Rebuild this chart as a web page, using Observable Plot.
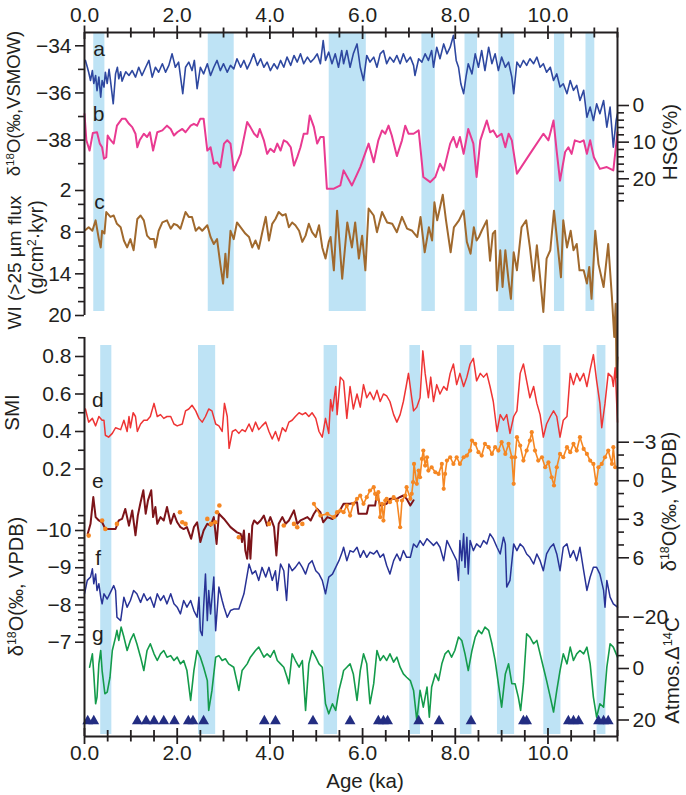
<!DOCTYPE html>
<html><head><meta charset="utf-8">
<script src="https://cdn.jsdelivr.net/npm/d3@7"></script>
<script src="https://cdn.jsdelivr.net/npm/@observablehq/plot@0.6"></script>
<style>body{margin:0;background:#fff}svg{display:block}</style>
</head><body>
<script>
// ---------- DATA (age in ka, value in each record's own units) ----------
const bandsTop = [[0.20,0.44],[2.67,3.23],[5.28,6.08],[7.28,7.57],[8.21,8.48],[8.94,9.28],[10.14,10.36],[10.82,11.01]];
const bandsBottom = [[0.35,0.59],[2.46,2.83],[5.17,5.46],[7.02,7.25],[8.11,8.36],[8.91,9.28],[9.91,10.28],[11.06,11.25]];

// a: d18O (permil VSMOW)
const seriesA = [[0.02,-34.62],[0.06,-34.9],[0.09,-35.12],[0.13,-35.47],[0.17,-35.05],[0.20,-35.6],[0.24,-35.26],[0.27,-35.9],[0.31,-35.33],[0.35,-36.18],[0.38,-35.47],[0.42,-35.75],[0.45,-35.12],[0.49,-35.6],[0.53,-35.0],[0.56,-35.47],[0.62,-36.46],[0.67,-35.19],[0.71,-34.91],[0.74,-35.4],[0.78,-35.1],[0.81,-35.5],[0.89,-35.1],[0.96,-35.26],[1.03,-35.05],[1.10,-35.33],[1.17,-34.91],[1.24,-35.26],[1.32,-34.91],[1.39,-34.62],[1.46,-35.33],[1.53,-34.91],[1.60,-35.12],[1.68,-34.76],[1.75,-35.12],[1.82,-34.83],[1.89,-34.34],[1.96,-34.91],[2.03,-34.69],[2.12,-36.03],[2.18,-34.91],[2.25,-34.69],[2.32,-35.05],[2.37,-34.62],[2.43,-35.82],[2.50,-34.91],[2.57,-35.19],[2.65,-34.76],[2.72,-35.26],[2.79,-34.91],[2.86,-34.62],[2.93,-35.05],[3.00,-34.76],[3.08,-35.12],[3.15,-34.83],[3.22,-34.98],[3.29,-34.55],[3.37,-34.91],[3.44,-34.62],[3.51,-34.98],[3.58,-34.69],[3.65,-34.34],[3.73,-34.83],[3.80,-34.55],[3.87,-34.91],[3.94,-34.69],[4.01,-35.05],[4.09,-34.76],[4.16,-34.98],[4.23,-34.62],[4.30,-34.91],[4.37,-34.48],[4.45,-34.83],[4.52,-34.41],[4.59,-34.69],[4.66,-34.34],[4.73,-34.76],[4.81,-34.48],[4.88,-34.69],[4.95,-34.55],[5.02,-34.34],[5.09,-34.76],[5.15,-33.78],[5.20,-34.62],[5.27,-34.27],[5.34,-34.76],[5.41,-34.34],[5.48,-34.91],[5.55,-34.2],[5.59,-34.76],[5.66,-34.2],[5.73,-34.91],[5.80,-34.34],[5.88,-33.92],[5.95,-34.91],[6.02,-35.47],[6.09,-34.41],[6.16,-34.69],[6.24,-34.48],[6.31,-34.91],[6.38,-34.34],[6.45,-34.2],[6.52,-34.76],[6.59,-34.48],[6.67,-34.69],[6.74,-34.41],[6.81,-34.76],[6.88,-34.34],[6.95,-34.69],[7.03,-34.48],[7.10,-34.83],[7.13,-35.26],[7.21,-34.55],[7.28,-34.69],[7.35,-34.34],[7.42,-34.62],[7.49,-34.2],[7.53,-34.91],[7.60,-34.06],[7.67,-34.55],[7.75,-33.92],[7.82,-34.34],[7.89,-34.06],[7.96,-33.56],[8.02,-34.62],[8.07,-34.91],[8.12,-35.61],[8.18,-36.03],[8.23,-35.33],[8.28,-34.76],[8.36,-35.19],[8.43,-34.34],[8.50,-34.91],[8.57,-34.2],[8.64,-35.05],[8.72,-34.06],[8.79,-34.76],[8.86,-34.34],[8.93,-35.05],[9.00,-34.48],[9.08,-34.91],[9.15,-34.69],[9.22,-35.33],[9.26,-36.03],[9.33,-34.69],[9.40,-34.91],[9.47,-34.62],[9.54,-34.83],[9.61,-34.55],[9.69,-34.76],[9.76,-34.48],[9.83,-34.91],[9.90,-34.76],[9.97,-35.12],[10.05,-34.91],[10.12,-35.47],[10.19,-35.19],[10.26,-35.75],[10.33,-35.61],[10.41,-36.03],[10.48,-35.47],[10.55,-35.89],[10.62,-35.68],[10.69,-36.32],[10.77,-35.89],[10.84,-37.03],[10.91,-36.6],[10.98,-37.17],[11.05,-36.46],[11.12,-36.88],[11.20,-36.32],[11.27,-37.45],[11.34,-36.6],[11.41,-38.3],[11.47,-37.17],[11.50,-36.88]];

// b: HSG (%)
const seriesB = [[0.00,2.3],[0.04,9.5],[0.11,12.3],[0.18,7.5],[0.27,7.3],[0.33,10.4],[0.38,11.4],[0.42,14.5],[0.47,14.1],[0.50,8.2],[0.56,9.4],[0.63,10.4],[0.70,5.5],[0.81,3.6],[0.88,3.6],[0.96,5.0],[1.03,5.9],[1.10,7.7],[1.14,11.4],[1.19,9.5],[1.28,7.7],[1.35,8.6],[1.41,7.3],[1.48,12.3],[1.57,7.3],[1.68,6.8],[1.78,5.5],[1.86,6.4],[1.93,8.2],[2.00,7.3],[2.11,6.4],[2.18,7.3],[2.29,5.5],[2.36,5.0],[2.43,5.5],[2.50,3.6],[2.57,3.6],[2.65,12.3],[2.72,11.4],[2.79,15.9],[2.86,15.5],[2.93,16.8],[3.01,10.4],[3.08,9.5],[3.15,10.4],[3.22,17.7],[3.37,13.2],[3.51,4.5],[3.58,5.9],[3.66,7.7],[3.73,8.6],[3.78,6.4],[3.87,9.5],[3.94,13.2],[4.01,11.8],[4.09,12.7],[4.16,10.4],[4.23,12.3],[4.30,9.5],[4.37,10.0],[4.45,11.4],[4.52,16.4],[4.59,14.1],[4.66,11.4],[4.73,7.7],[4.81,7.7],[4.86,2.7],[4.95,5.9],[5.02,10.4],[5.09,8.6],[5.16,8.6],[5.23,22.7],[5.38,22.7],[5.52,21.8],[5.59,17.7],[5.77,21.8],[5.95,16.8],[6.13,10.4],[6.24,15.5],[6.34,9.5],[6.42,6.8],[6.49,7.7],[6.56,5.5],[6.63,8.2],[6.74,13.8],[6.85,9.5],[6.92,5.5],[6.99,7.7],[7.10,7.7],[7.21,6.8],[7.31,19.5],[7.46,20.9],[7.57,19.5],[7.67,15.9],[7.75,17.7],[7.89,10.4],[7.96,8.6],[8.03,11.4],[8.10,8.6],[8.18,13.2],[8.28,6.4],[8.39,10.4],[8.46,19.5],[8.54,9.5],[8.61,6.8],[8.68,4.1],[8.75,7.3],[8.82,6.8],[8.90,8.6],[9.00,7.7],[9.08,11.4],[9.15,7.7],[9.22,9.5],[9.33,18.6],[9.61,13.2],[9.90,7.7],[10.01,9.5],[10.12,4.1],[10.19,12.7],[10.26,20.5],[10.37,12.7],[10.44,11.4],[10.51,13.2],[10.58,9.5],[10.69,10.0],[10.77,9.5],[10.84,13.2],[10.91,9.5],[10.99,14.1],[11.12,17.3],[11.27,16.8],[11.41,17.7],[11.50,7.3]];

// c: WI (>25 um flux, g/cm2.kyr)
const seriesC = [[0.02,7.7],[0.09,7.3],[0.17,7.8],[0.24,6.3],[0.31,9.0],[0.35,10.2],[0.38,7.8],[0.43,8.2],[0.47,5.1],[0.56,5.8],[0.63,5.6],[0.70,6.8],[0.78,7.3],[0.85,9.2],[0.92,10.2],[0.99,9.0],[1.06,10.6],[1.14,6.1],[1.21,5.6],[1.28,6.3],[1.35,8.5],[1.42,9.0],[1.50,9.0],[1.53,10.2],[1.60,7.8],[1.68,6.6],[1.78,6.3],[1.86,7.5],[1.93,6.8],[2.00,7.0],[2.07,7.5],[2.18,5.1],[2.25,5.8],[2.32,5.8],[2.40,7.8],[2.47,7.3],[2.54,7.8],[2.65,7.0],[2.72,8.7],[2.79,9.7],[2.86,9.0],[2.93,12.6],[2.99,15.4],[3.04,11.1],[3.08,14.5],[3.15,7.8],[3.22,9.0],[3.29,6.6],[3.37,7.3],[3.47,8.2],[3.55,8.7],[3.62,10.2],[3.69,9.2],[3.76,10.4],[3.83,8.2],[3.91,5.8],[3.98,9.2],[4.05,6.8],[4.12,6.1],[4.19,5.1],[4.27,5.6],[4.34,5.4],[4.41,7.3],[4.48,6.6],[4.55,7.0],[4.63,7.8],[4.70,9.4],[4.77,8.5],[4.84,6.8],[4.91,8.0],[4.99,8.7],[5.06,7.0],[5.13,10.2],[5.20,11.8],[5.27,9.4],[5.31,8.7],[5.38,13.5],[5.45,4.9],[5.56,14.7],[5.67,6.6],[5.77,10.2],[5.84,6.6],[5.92,11.8],[5.99,8.5],[6.06,13.5],[6.13,4.6],[6.24,5.6],[6.31,8.0],[6.42,5.1],[6.53,6.6],[6.64,6.8],[6.74,8.0],[6.85,5.8],[6.96,7.5],[7.07,7.8],[7.18,8.7],[7.25,5.8],[7.34,10.9],[7.43,7.3],[7.50,9.2],[7.55,3.7],[7.61,6.3],[7.73,2.6],[7.80,6.3],[7.90,10.9],[7.97,7.3],[8.08,6.3],[8.18,4.9],[8.25,9.4],[8.33,11.1],[8.40,7.3],[8.46,9.2],[8.51,8.7],[8.57,7.8],[8.68,6.3],[8.75,12.1],[8.81,8.2],[8.86,7.8],[8.90,16.4],[8.97,10.6],[9.02,15.9],[9.08,10.6],[9.15,15.0],[9.20,17.6],[9.26,10.9],[9.33,13.5],[9.43,7.3],[9.53,6.3],[9.61,10.2],[9.69,15.0],[9.76,9.9],[9.83,14.5],[9.90,19.5],[9.97,11.8],[10.05,10.6],[10.13,4.9],[10.19,8.7],[10.28,14.5],[10.33,6.3],[10.41,10.2],[10.49,7.8],[10.55,10.6],[10.62,9.7],[10.68,13.5],[10.77,13.5],[10.84,15.4],[10.89,13.0],[10.94,17.6],[11.02,7.8],[11.09,12.6],[11.20,15.9],[11.30,9.7],[11.38,17.4],[11.43,23.1],[11.46,18.3],[11.48,28.9],[11.50,26.0]];

// d: SMI
const seriesD = [[0.02,0.52],[0.09,0.45],[0.17,0.47],[0.24,0.43],[0.31,0.48],[0.38,0.46],[0.42,0.46],[0.45,0.38],[0.52,0.37],[0.60,0.39],[0.67,0.42],[0.78,0.41],[0.85,0.46],[0.92,0.40],[0.96,0.48],[0.99,0.42],[1.05,0.50],[1.10,0.48],[1.14,0.40],[1.21,0.44],[1.28,0.46],[1.35,0.46],[1.42,0.48],[1.50,0.55],[1.57,0.48],[1.64,0.49],[1.71,0.47],[1.78,0.48],[1.86,0.48],[1.93,0.44],[2.00,0.43],[2.11,0.44],[2.18,0.51],[2.25,0.52],[2.32,0.54],[2.40,0.51],[2.47,0.47],[2.54,0.45],[2.61,0.48],[2.68,0.52],[2.75,0.51],[2.83,0.44],[2.90,0.43],[2.97,0.40],[3.02,0.55],[3.08,0.48],[3.12,0.31],[3.19,0.40],[3.26,0.41],[3.33,0.39],[3.40,0.41],[3.47,0.40],[3.55,0.44],[3.62,0.40],[3.69,0.45],[3.76,0.41],[3.83,0.43],[3.91,0.45],[3.98,0.40],[4.05,0.36],[4.12,0.40],[4.19,0.35],[4.27,0.42],[4.34,0.40],[4.41,0.45],[4.48,0.46],[4.55,0.48],[4.63,0.50],[4.70,0.49],[4.77,0.50],[4.84,0.48],[4.91,0.50],[4.99,0.47],[5.06,0.40],[5.13,0.37],[5.20,0.47],[5.27,0.39],[5.31,0.57],[5.35,0.51],[5.42,0.64],[5.45,0.49],[5.52,0.69],[5.59,0.67],[5.66,0.47],[5.73,0.64],[5.80,0.52],[5.88,0.60],[5.95,0.53],[6.02,0.65],[6.09,0.58],[6.16,0.61],[6.24,0.57],[6.31,0.62],[6.38,0.56],[6.45,0.60],[6.52,0.59],[6.59,0.56],[6.67,0.49],[6.74,0.45],[6.81,0.49],[6.88,0.56],[6.94,0.64],[6.99,0.71],[7.06,0.58],[7.10,0.51],[7.17,0.53],[7.24,0.58],[7.30,0.83],[7.35,0.71],[7.42,0.58],[7.47,0.69],[7.53,0.56],[7.60,0.65],[7.67,0.60],[7.75,0.64],[7.82,0.62],[7.89,0.71],[7.96,0.76],[8.03,0.65],[8.10,0.71],[8.18,0.64],[8.25,0.69],[8.32,0.76],[8.39,0.79],[8.46,0.67],[8.54,0.71],[8.61,0.69],[8.68,0.71],[8.75,0.64],[8.82,0.56],[8.90,0.40],[8.97,0.49],[9.04,0.46],[9.11,0.49],[9.18,0.39],[9.26,0.48],[9.33,0.51],[9.40,0.71],[9.47,0.76],[9.54,0.67],[9.61,0.58],[9.69,0.64],[9.76,0.55],[9.83,0.49],[9.90,0.37],[9.97,0.44],[10.05,0.48],[10.12,0.51],[10.19,0.48],[10.26,0.37],[10.33,0.46],[10.41,0.48],[10.48,0.71],[10.55,0.65],[10.62,0.71],[10.69,0.67],[10.77,0.71],[10.84,0.64],[10.91,0.73],[10.98,0.81],[11.05,0.67],[11.12,0.55],[11.16,0.42],[11.23,0.55],[11.30,0.71],[11.38,0.69],[11.41,0.64],[11.45,0.74],[11.50,0.45]];

// e: d18O (permil VPDB), dark red record (left axis)
const seriesE1 = [[0.07,-9.91],[0.13,-10.18],[0.19,-10.9],[0.24,-10.36],[0.31,-10.27],[0.38,-10.22],[0.45,-10.04],[0.67,-10.04],[0.74,-10.27],[0.81,-10.31],[0.88,-10.58],[0.96,-10.13],[1.03,-10.54],[1.10,-9.87],[1.15,-10.40],[1.21,-10.76],[1.27,-11.08],[1.32,-10.45],[1.37,-10.81],[1.44,-11.08],[1.48,-10.36],[1.53,-10.63],[1.57,-10.18],[1.64,-10.36],[1.71,-10.27],[1.78,-10.63],[1.86,-10.18],[1.93,-10.45],[2.00,-10.22],[2.07,-10.09],[2.14,-10.04],[2.21,-10.09],[2.30,-9.78],[2.36,-10.09],[2.43,-10.22],[2.50,-9.69],[2.57,-10.0],[2.65,-10.18],[2.72,-10.13],[2.79,-10.36],[2.85,-9.64],[2.90,-10.45],[3.01,-10.31],[3.15,-10.09],[3.29,-9.95],[3.37,-9.91],[3.40,-9.69],[3.44,-10.0],[3.47,-9.46],[3.51,-9.24],[3.55,-9.91],[3.58,-9.24],[3.62,-10.13],[3.66,-10.27],[3.73,-10.18],[3.80,-10.27],[3.87,-10.40],[3.94,-10.13],[4.01,-10.36],[4.09,-10.09],[4.14,-9.33],[4.19,-10.18],[4.27,-10.36],[4.34,-10.18],[4.41,-10.27],[4.52,-10.54],[4.59,-10.18],[4.66,-10.27],[4.73,-10.31],[4.81,-10.36],[4.88,-10.27],[4.95,-10.45],[5.02,-10.58],[5.09,-10.49],[5.15,-10.22],[5.24,-10.36],[5.35,-10.31],[5.45,-10.40],[5.59,-10.72],[5.73,-10.72],[5.88,-10.76],[5.91,-10.45],[6.09,-10.45],[6.13,-10.67],[6.27,-10.67],[6.31,-10.99],[6.38,-10.67],[6.52,-10.72],[6.59,-10.85],[6.74,-10.85],[6.81,-10.90],[6.88,-10.94],[6.95,-10.85],[7.03,-10.67],[7.10,-10.81]];

// e: d18O (permil VPDB), orange record (right axis)
const seriesE2Dots = [[0.09,4.27],[0.38,3.10],[0.45,3.75],[0.70,3.36],[2.06,2.45],[2.11,3.23],[2.18,3.36],[2.65,2.97],[2.73,3.36],[2.82,3.23],[2.86,2.45],[2.91,1.93],[3.33,4.40],[3.98,3.36],[4.30,3.49],[4.52,3.36],[4.59,3.62],[4.70,3.36]];
const seriesE2 = [[4.95,1.80],[5.09,2.71],[5.24,2.58],[5.38,2.84],[5.45,2.45],[5.52,2.32],[5.59,2.45],[5.66,1.93],[5.73,2.71],[5.80,1.80],[5.88,1.41],[5.95,1.15],[6.02,1.80],[6.09,1.28],[6.16,0.76],[6.24,0.50],[6.27,1.02],[6.31,1.41],[6.34,0.89],[6.38,2.84],[6.42,1.80],[6.45,3.10],[6.49,1.54],[6.52,1.41],[6.59,1.67],[6.67,1.28],[6.74,1.54],[6.81,3.62],[6.85,1.54],[6.92,1.15],[6.95,0.50],[7.03,1.41],[7.06,1.02],[7.09,0.11],[7.11,-1.31],[7.17,0.24],[7.21,-0.79],[7.24,-0.27],[7.28,-1.70],[7.31,-2.35],[7.35,-1.18],[7.39,-1.83],[7.42,-0.79],[7.49,-1.05],[7.57,-0.66],[7.64,-0.53],[7.71,-1.31],[7.75,0.63],[7.78,-0.53],[7.82,-1.57],[7.89,-1.83],[7.96,-1.31],[8.03,-1.83],[8.10,-1.31],[8.18,-1.83],[8.25,-1.96],[8.32,-2.35],[8.36,-3.13],[8.43,-2.87],[8.50,-2.22],[8.57,-1.96],[8.64,-2.87],[8.72,-2.61],[8.79,-2.09],[8.86,-2.61],[8.93,-2.35],[9.00,-3.0],[9.08,-2.09],[9.15,-2.87],[9.22,-1.83],[9.26,0.24],[9.29,-1.83],[9.33,-3.39],[9.40,-2.74],[9.47,-1.57],[9.54,-2.35],[9.61,-3.13],[9.65,-3.78],[9.72,-2.35],[9.79,-1.57],[9.87,-1.83],[9.94,-1.05],[10.01,-1.44],[10.08,-0.27],[10.13,0.37],[10.19,-1.05],[10.26,-2.09],[10.33,-1.83],[10.41,-2.61],[10.48,-2.22],[10.55,-2.87],[10.62,-2.35],[10.69,-3.39],[10.77,-2.48],[10.84,-2.09],[10.91,-1.57],[10.98,-1.31],[11.04,0.24],[11.09,-1.05],[11.16,-1.31],[11.23,-1.83],[11.30,-2.35],[11.38,-1.31],[11.41,-2.61],[11.45,-1.05]];

// f: d18O (permil VPDB), blue record (left axis)
const seriesF = [[0.00,-8.30],[0.06,-8.66],[0.13,-8.75],[0.17,-8.97],[0.20,-8.57],[0.24,-8.83],[0.27,-8.39],[0.31,-8.57],[0.35,-8.21],[0.38,-8.03],[0.42,-8.30],[0.49,-8.16],[0.56,-8.34],[0.63,-8.52],[0.67,-8.39],[0.70,-7.67],[0.78,-7.58],[0.85,-8.21],[0.92,-7.94],[0.99,-8.12],[1.06,-8.39],[1.13,-8.30],[1.21,-8.07],[1.28,-8.30],[1.35,-8.12],[1.42,-8.21],[1.50,-7.94],[1.57,-8.30],[1.64,-8.12],[1.71,-8.25],[1.78,-8.03],[1.86,-8.30],[1.93,-8.03],[2.00,-7.94],[2.07,-7.76],[2.14,-8.12],[2.21,-7.94],[2.29,-8.12],[2.36,-7.85],[2.43,-7.67],[2.47,-8.21],[2.50,-7.31],[2.54,-7.18],[2.57,-7.94],[2.61,-8.83],[2.65,-7.58],[2.68,-8.39],[2.72,-7.76],[2.79,-8.75],[2.83,-7.31],[2.90,-8.48],[2.97,-8.12],[3.01,-7.94],[3.08,-7.67],[3.15,-7.85],[3.22,-7.89],[3.33,-7.89],[3.44,-8.30],[3.55,-9.10],[3.62,-8.83],[3.69,-8.92],[3.76,-8.66],[3.83,-9.01],[3.91,-8.75],[3.98,-9.01],[4.05,-8.66],[4.12,-8.92],[4.16,-8.39],[4.23,-9.10],[4.30,-8.92],[4.36,-8.12],[4.41,-9.10],[4.48,-8.92],[4.55,-9.01],[4.63,-9.15],[4.70,-9.01],[4.77,-8.83],[4.84,-9.10],[4.91,-9.19],[4.99,-8.92],[5.06,-8.83],[5.13,-8.66],[5.20,-8.30],[5.27,-8.75],[5.35,-8.83],[5.42,-9.01],[5.49,-9.19],[5.56,-9.42],[5.59,-9.55],[5.66,-9.19],[5.73,-9.46],[5.80,-9.42],[5.88,-9.55],[5.95,-9.28],[6.02,-9.46],[6.09,-9.28],[6.16,-9.42],[6.24,-9.37],[6.31,-9.46],[6.38,-9.28],[6.45,-9.37],[6.52,-9.06],[6.59,-8.83],[6.67,-9.19],[6.74,-9.37],[6.81,-9.19],[6.88,-9.46],[6.95,-9.28],[7.03,-9.28],[7.10,-9.64],[7.17,-9.55],[7.24,-9.73],[7.31,-9.60],[7.39,-9.78],[7.46,-9.69],[7.53,-9.60],[7.60,-9.69],[7.67,-9.55],[7.75,-9.19],[7.82,-9.73],[7.89,-9.55],[7.96,-9.37],[8.03,-9.19],[8.07,-8.66],[8.10,-9.73],[8.14,-9.19],[8.18,-9.91],[8.21,-9.01],[8.25,-9.82],[8.28,-8.83],[8.32,-9.73],[8.39,-9.46],[8.46,-9.64],[8.54,-9.55],[8.61,-9.73],[8.68,-9.64],[8.75,-9.91],[8.82,-9.78],[8.90,-9.55],[8.97,-9.37],[9.04,-9.82],[9.08,-9.64],[9.11,-8.48],[9.18,-8.66],[9.26,-9.64],[9.33,-9.46],[9.40,-9.64],[9.47,-9.55],[9.54,-9.37],[9.61,-9.28],[9.69,-9.10],[9.76,-9.37],[9.83,-9.19],[9.90,-8.92],[9.97,-9.37],[10.05,-9.55],[10.12,-9.64],[10.19,-9.37],[10.26,-8.92],[10.33,-9.55],[10.41,-9.64],[10.48,-9.28],[10.55,-9.46],[10.62,-9.19],[10.69,-9.55],[10.77,-8.92],[10.84,-8.39],[10.91,-8.75],[10.98,-9.01],[11.05,-9.01],[11.12,-8.83],[11.20,-8.39],[11.23,-7.94],[11.27,-8.66],[11.34,-8.21],[11.41,-8.03],[11.50,-7.94]];

// g: Atmos. Delta14C (permil)
const seriesG = [[0.11,-0.5],[0.17,-5.7],[0.20,2.1],[0.24,13.7],[0.27,11.1],[0.31,-1.8],[0.35,-7.0],[0.38,0.8],[0.44,9.8],[0.49,9.2],[0.55,3.4],[0.60,-7.0],[0.67,-12.2],[0.70,-14.8],[0.74,-10.9],[0.79,-16.1],[0.85,-12.2],[0.92,-7.0],[0.99,-10.9],[1.06,-13.5],[1.13,-9.6],[1.21,-4.4],[1.28,0.8],[1.35,-7.0],[1.42,-9.6],[1.50,-5.7],[1.57,-3.1],[1.64,-5.7],[1.71,-7.0],[1.78,-4.4],[1.86,-5.0],[1.93,-3.1],[2.00,-4.4],[2.07,-1.8],[2.14,-3.1],[2.21,0.8],[2.29,12.4],[2.36,0.8],[2.43,-7.0],[2.50,-4.4],[2.57,-0.5],[2.65,4.7],[2.68,16.3],[2.75,8.5],[2.83,-4.4],[2.90,-5.0],[2.97,-3.1],[3.04,-3.8],[3.11,-1.8],[3.22,-0.5],[3.33,8.5],[3.40,0.8],[3.51,-1.8],[3.58,-4.4],[3.69,-7.0],[3.76,-8.3],[3.87,-4.4],[3.94,-5.7],[4.01,-4.4],[4.09,-7.0],[4.16,-3.1],[4.23,-1.8],[4.30,-0.5],[4.37,3.4],[4.41,5.9],[4.48,-5.7],[4.55,-3.1],[4.63,-0.5],[4.70,-3.1],[4.77,16.3],[4.84,-1.8],[4.91,-7.0],[4.99,-4.4],[5.06,-1.8],[5.13,-0.5],[5.20,13.7],[5.27,17.6],[5.35,13.7],[5.42,16.3],[5.49,8.5],[5.56,3.4],[5.59,0.8],[5.66,-0.5],[5.73,-1.8],[5.80,2.1],[5.88,12.4],[5.95,0.8],[6.02,-5.7],[6.09,-1.8],[6.16,13.7],[6.24,5.9],[6.31,-7.0],[6.38,-3.1],[6.45,-5.0],[6.52,-3.1],[6.59,-5.7],[6.67,-2.5],[6.74,-4.4],[6.81,-0.5],[6.88,2.1],[6.95,3.4],[7.03,4.7],[7.10,8.5],[7.17,20.2],[7.24,8.5],[7.31,15.0],[7.39,7.2],[7.44,18.9],[7.49,7.2],[7.57,2.1],[7.64,4.7],[7.71,-1.8],[7.78,-5.7],[7.85,-7.0],[7.92,-4.4],[7.99,-7.0],[8.07,-12.2],[8.14,-10.9],[8.21,-5.7],[8.28,0.8],[8.36,-7.0],[8.43,-12.2],[8.50,-14.8],[8.57,-13.5],[8.64,-16.1],[8.72,-14.8],[8.79,-9.6],[8.86,-3.1],[8.93,5.9],[9.00,15.0],[9.08,2.1],[9.15,-1.8],[9.22,5.9],[9.29,5.9],[9.36,11.1],[9.41,16.3],[9.47,5.9],[9.54,-13.5],[9.61,-12.2],[9.69,-9.6],[9.76,-10.9],[9.83,-5.7],[9.90,-0.5],[9.97,4.7],[10.05,11.1],[10.12,16.9],[10.19,8.5],[10.26,0.8],[10.33,-5.7],[10.41,-1.8],[10.48,-8.3],[10.55,-3.1],[10.62,-5.7],[10.69,-7.0],[10.77,-5.7],[10.84,-8.3],[10.91,-1.8],[10.98,11.1],[11.05,18.9],[11.12,13.7],[11.20,15.0],[11.27,-0.5],[11.34,-9.6],[11.41,-8.3],[11.50,-4.4]];

// dating control points (ka)
const datingAges = [0.07,0.20,1.14,1.33,1.50,1.71,1.94,2.24,2.34,2.57,3.88,4.12,4.93,5.73,6.34,6.45,6.54,7.21,7.65,8.34,9.47,9.54,10.44,10.55,10.66,11.09,11.20,11.30];

// tick values / labels
const xTicksMajor = [0,2,4,6,8,10];
const xTicksMinor = [0.5,1,1.5,2.5,3,3.5,4.5,5,5.5,6.5,7,7.5,8.5,9,9.5,10.5,11,11.5];
const tickA = {major:[-34,-36,-38], minor:[-35,-37,-39]};
const tickWI = {major:[2,8,14,20], minor:[4,6,10,12,16,18]};
const tickHSG = {major:[0,10,20], minor:[2,4,6,8,12,14,16,18,22,24,26]};
const tickSMI = {major:[0.8,0.6,0.4,0.2], minor:[0.9,0.7,0.5,0.3]};
const tickL = {major:[-10,-9,-8,-7], minor:[-10.4,-10.2,-9.8,-9.6,-9.4,-9.2,-8.8,-8.6,-8.4,-8.2,-7.8,-7.6,-7.4,-7.2]};
const tickR = {major:[-3,0,3,6], minor:[-2,-1,1,2,4,5]};
const tickC = {major:[-20,0,20], minor:[-15,-10,-5,5,10,15]};

// ---------- LAYOUT: shared vertical track, each record mapped onto its own band ----------
const yA   = d3.scaleLinear([-34,-38],[45.3,139.6]);
const yHSG = d3.scaleLinear([0,20],[105,178.3]);
const yWI  = d3.scaleLinear([2,20],[190,315]);
const ySMI = d3.scaleLinear([0.8,0.2],[356,468.5]);
const yL   = d3.scaleLinear([-10,-7],[530,641.7]);
const yR   = d3.scaleLinear([-3,6],[441.7,557.3]);
const yC   = d3.scaleLinear([-20,20],[616.5,719.5]);

const INK = "#231f20";
const fmtNum = v => (v < 0 ? "\u2212" : "") + Math.abs(v);
const fmtSMI = v => v.toFixed(1);

function yAxis(scale, spec, anchor, fmt) {
  const lab = new Map(spec.major.map(v => [scale(v), fmt(v)]));
  return [
    Plot.axisY({anchor, ticks: spec.minor.map(scale), tickSize: 6, tickFormat: () => "", label: null, strokeWidth: 1.6}),
    Plot.axisY({anchor, ticks: spec.major.map(scale), tickSize: anchor === "left" ? 9 : 11, tickPadding: 4,
      tickFormat: p => lab.get(p), label: null, fontSize: 21, strokeWidth: 1.6})
  ];
}
const X = d => d[0];
const title = (txt, side, y, dx, size = 20.5) =>
  Plot.text([txt], {frameAnchor: side, y, dx, rotate: -90, textAnchor: "middle", lineAnchor: "middle", fontSize: size, fill: INK});

const chart = Plot.plot({
  width: 686, height: 795,
  marginLeft: 84, marginRight: 69, marginTop: 32, marginBottom: 59,
  x: {domain: [0, 11.5]},
  y: {domain: [32, 736], range: [32, 736]},
  style: {fontFamily: "'Liberation Sans', Arial, Helvetica, sans-serif", fontSize: "21px", color: INK, background: "#fff", overflow: "visible"},
  marks: [
    Plot.rect(bandsTop, {x1: d => d[0], x2: d => d[1], y1: 32, y2: 311, fill: "#bee3f5"}),
    Plot.rect(bandsBottom, {x1: d => d[0], x2: d => d[1], y1: 345, y2: 734, fill: "#bee3f5"}),

    Plot.line(seriesA, {x: X, y: d => yA(d[1]), stroke: "#2e48a0", strokeWidth: 1.6}),
    Plot.line(seriesB, {x: X, y: d => yHSG(d[1]), stroke: "#e93a91", strokeWidth: 2}),
    Plot.line(seriesC, {x: X, y: d => yWI(d[1]), stroke: "#a0692d", strokeWidth: 2}),

    Plot.line(seriesD, {x: X, y: d => ySMI(d[1]), stroke: "#ee3434", strokeWidth: 1.5}),
    Plot.line(seriesE1, {x: X, y: d => yL(d[1]), stroke: "#7d1419", strokeWidth: 2}),
    Plot.line(seriesE2, {x: X, y: d => yR(d[1]), stroke: "#f58723", strokeWidth: 1.6}),
    Plot.dot(seriesE2, {x: X, y: d => yR(d[1]), r: 2.1, fill: "#f58723"}),
    Plot.dot(seriesE2Dots, {x: X, y: d => yR(d[1]), r: 2.3, fill: "#f58723"}),
    Plot.line(seriesF, {x: X, y: d => yL(d[1]), stroke: "#283296", strokeWidth: 1.5}),
    Plot.line(seriesG, {x: X, y: d => yC(d[1]), stroke: "#149b4b", strokeWidth: 1.6}),
    Plot.dot(datingAges, {x: d => d, y: yC(20.4), symbol: "triangle", r: 4, fill: "#232d82"}),

    // frame lines
    Plot.ruleX([0], {y1: 32, y2: 315, stroke: INK, strokeWidth: 2}),
    Plot.ruleX([0], {y1: 337, y2: 736, stroke: INK, strokeWidth: 2}),
    Plot.ruleX([11.5], {y1: 32, y2: 736, stroke: INK, strokeWidth: 2}),
    Plot.ruleY([32], {x1: 0, x2: 11.5, stroke: INK, strokeWidth: 2}),
    Plot.ruleY([736], {x1: 0, x2: 11.5, stroke: INK, strokeWidth: 2}),
    // x ticks (cross the axis lines)
    Plot.ruleX(xTicksMajor, {y1: 25.5, y2: 39, stroke: INK, strokeWidth: 1.8}),
    Plot.ruleX(xTicksMinor, {y1: 27.5, y2: 37.5, stroke: INK, strokeWidth: 1.8}),
    Plot.ruleX(xTicksMajor, {y1: 728, y2: 744, stroke: INK, strokeWidth: 1.8}),
    Plot.ruleX(xTicksMinor, {y1: 730, y2: 741.5, stroke: INK, strokeWidth: 1.8}),
    Plot.axisX({anchor: "top", ticks: xTicksMajor, tickSize: 0, tickPadding: 11, tickFormat: d3.format(".1f"), label: null, fontSize: 21}),
    Plot.axisX({anchor: "bottom", ticks: xTicksMajor, tickSize: 0, tickPadding: 9, tickFormat: d3.format(".1f"), label: null, fontSize: 21}),

    ...yAxis(yA, tickA, "left", fmtNum),
    ...yAxis(yWI, tickWI, "left", fmtNum),
    ...yAxis(ySMI, tickSMI, "left", fmtSMI),
    ...yAxis(yL, tickL, "left", fmtNum),
    ...yAxis(yHSG, tickHSG, "right", fmtNum),
    ...yAxis(yR, tickR, "right", fmtNum),
    ...yAxis(yC, tickC, "right", fmtNum),

    // axis titles
    title("\u03b4^{18}O(\u2030,VSMOW)", "left", 103, -70, 18.5),
    title("WI (>25 \u00b5m flux", "left", 262, -70, 19),
    title("(g/cm^{2}\u00b7kyr)", "left", 247, -48, 19.5),
    title("HSG(%)", "right", 141.5, 53),
    title("SMI", "left", 412, -72),
    title("\u03b4^{18}O(\u2030, VPDB)", "left", 586, -68, 20),
    title("\u03b4^{18}O(\u2030, VPDB)", "right", 501, 52, 20),
    title("Atmos.\u0394^{14}C", "right", 670, 55),
    Plot.text(["Age (ka)"], {frameAnchor: "bottom", dy: 45, dx: 14, textAnchor: "middle", lineAnchor: "middle", fontSize: 20.5, fill: INK}),

    // panel letters
    Plot.text(["a"], {x: 0.19, y: 49, textAnchor: "start", fontSize: 21, fill: INK}),
    Plot.text(["b"], {x: 0.18, y: 114, textAnchor: "start", fontSize: 21, fill: INK}),
    Plot.text(["c"], {x: 0.21, y: 202, textAnchor: "start", fontSize: 21, fill: INK}),
    Plot.text(["d"], {x: 0.16, y: 400, textAnchor: "start", fontSize: 21, fill: INK}),
    Plot.text(["e"], {x: 0.16, y: 481, textAnchor: "start", fontSize: 21, fill: INK}),
    Plot.text(["f"], {x: 0.23, y: 558, textAnchor: "start", fontSize: 21, fill: INK}),
    Plot.text(["g"], {x: 0.16, y: 634, textAnchor: "start", fontSize: 21, fill: INK})
  ]
});

// render ^{..} as superscript tspans
chart.querySelectorAll("text").forEach(t => {
  const s = t.textContent;
  if (!s.includes("^{")) return;
  t.textContent = "";
  s.split(/(\^\{[^}]*\})/).forEach(part => {
    if (!part) return;
    const ts = document.createElementNS("http://www.w3.org/2000/svg", "tspan");
    if (part.startsWith("^{")) {
      ts.textContent = part.slice(2, -1);
      ts.setAttribute("baseline-shift", "super");
      ts.setAttribute("font-size", "62%");
    } else ts.textContent = part;
    t.appendChild(ts);
  });
});
document.body.appendChild(chart);
</script>
</body></html>
